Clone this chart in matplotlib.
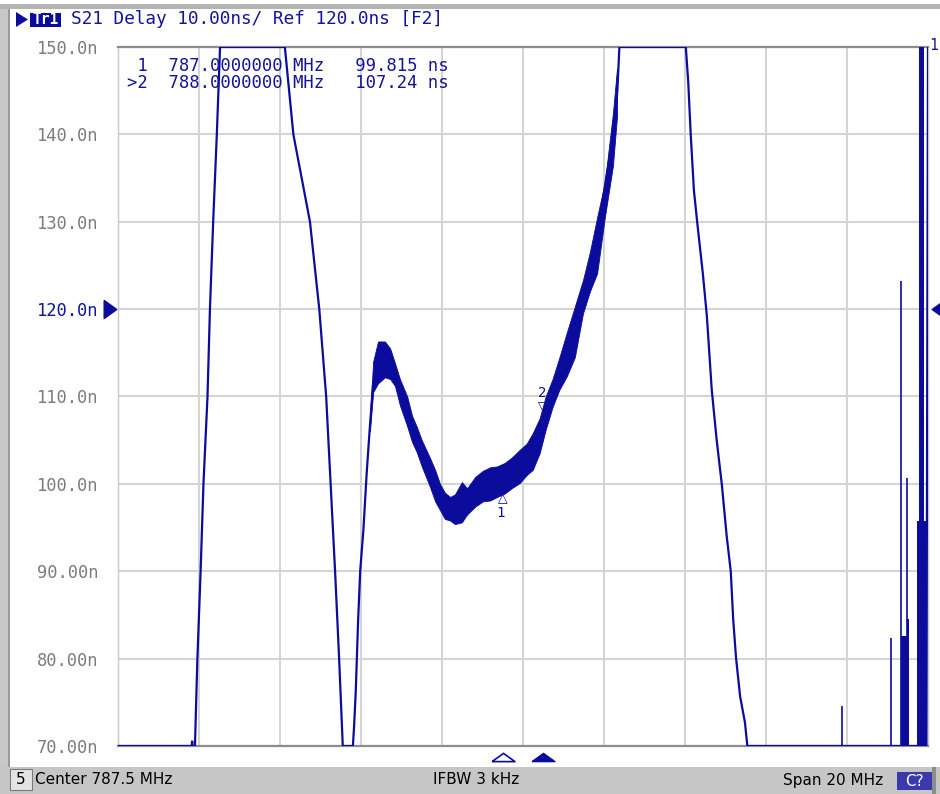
"""
ENA-style S21 group delay screenshot, redrawn with matplotlib.
"""
import matplotlib

matplotlib.use("Agg")
import matplotlib.pyplot as plt  # noqa: E402
import matplotlib.transforms as mtransforms  # noqa: E402
from matplotlib.patches import Polygon, Rectangle  # noqa: E402
from matplotlib.path import Path  # noqa: E402

# sweep settings
CENTER_MHZ = 787.5
SPAN_MHZ = 20.0
DIV_MHZ = 2.0
Y_MIN, Y_MAX, Y_DIV = 70.0, 150.0, 10.0
REF_LEVEL = 120.0

# main trace, MHz / ns
freq_mhz = [
    777.50, 779.32, 779.33, 779.34, 779.40, 779.46, 779.54, 779.61, 779.71, 779.77,
    779.85, 779.94, 780.02,
    781.62, 781.83, 782.24, 782.47, 782.64, 782.75, 782.86, 782.96, 783.05,
    783.30, 783.33, 783.37, 783.43, 783.48, 783.56, 783.64, 783.72, 783.80, 783.93,
    784.09, 784.22, 784.34, 784.46, 784.59, 784.71, 784.84, 784.96, 785.09, 785.21,
    785.33, 785.45, 785.62, 785.78, 785.90, 786.03, 786.19, 786.36, 786.51, 786.69,
    786.86, 787.00, 787.18, 787.34, 787.50, 787.67, 787.80, 787.93, 788.00, 788.17,
    788.32, 788.50, 788.61, 788.78, 788.99, 789.24, 789.44, 789.57, 789.73, 789.83,
    789.88,
    791.52, 791.58, 791.64, 791.72, 791.80, 791.94, 792.04, 792.16, 792.28, 792.41,
    792.53, 792.63, 792.69, 792.76, 792.86, 792.98, 793.04,
    797.46, 797.50,
]
delay_ns = [
    70.0, 70.0, 70.6, 70.0, 70.0, 80.0, 90.0, 100.0, 110.0, 120.0,
    130.0, 140.0, 150.0,
    150.0, 140.0, 130.0, 120.0, 110.0, 100.0, 90.0, 80.0, 70.0,
    70.0, 72.3, 76.2, 84.5, 90.0, 94.8, 101.2, 106.6, 111.5, 114.0,
    114.3, 113.8, 112.3, 110.4, 108.0, 106.2, 104.8, 103.1, 101.8, 100.6,
    99.2, 98.4, 97.3, 97.1, 97.0, 97.8, 98.5, 99.1, 99.6, 100.0,
    100.3, 99.8, 101.0, 101.9, 102.4, 103.6, 104.6, 106.2, 107.24, 109.5,
    111.3, 113.2, 115.0, 117.5, 121.4, 126.5, 131.5, 135.5, 139.5, 145.0,
    150.0,
    150.0, 146.0, 140.1, 133.6, 130.0, 124.1, 119.2, 110.8, 105.1, 99.9,
    94.0, 90.0, 84.5, 80.1, 75.7, 72.7, 70.0,
    70.0, 150.0,
]

# noise envelope of the passband part of the trace
band_mhz = [
    783.72, 783.80, 783.92, 784.09, 784.22, 784.34, 784.46, 784.64, 784.76, 784.88,
    785.00, 785.20, 785.33, 785.45, 785.57, 785.70, 785.82, 785.99, 786.12, 786.32,
    786.51, 786.69, 786.86, 787.05, 787.22, 787.42, 787.59, 787.74, 787.91, 788.06,
    788.23, 788.40, 788.58, 788.78, 788.98, 789.15, 789.33, 789.52, 789.72, 789.82,
]
band_lo = [
    106.0, 110.5, 111.5, 112.2, 112.0, 111.2, 109.0, 106.6, 104.8, 103.6,
    102.0, 99.7, 98.0, 97.0, 96.0, 95.8, 95.4, 95.6, 96.5, 97.4,
    98.0, 98.1, 98.5, 98.9, 99.5, 100.1, 101.0, 101.6, 103.5, 106.2,
    108.8, 110.8, 112.3, 114.5, 119.5, 122.0, 124.1, 130.5, 136.4, 142.0,
]
band_hi = [
    107.5, 114.0, 116.3, 116.3, 115.5, 113.8, 112.0, 110.0, 107.8, 106.5,
    105.0, 103.0, 101.6, 100.0, 99.0, 98.5, 98.8, 100.2, 99.5, 100.8,
    101.5, 101.9, 102.0, 102.4, 103.0, 103.9, 104.6, 105.8, 107.5, 110.0,
    112.0, 114.5, 117.3, 120.3, 123.3, 126.5, 130.5, 134.5, 142.4, 147.5,
]

# spurious spikes near the top of the span
spur_mhz = [795.38, 796.58, 796.83, 796.98]
spur_top = [74.6, 82.4, 123.2, 100.7]
block_start = [796.83, 796.97, 797.22, 797.27]
block_end = [796.97, 797.04, 797.45, 797.40]
block_top = [82.6, 84.5, 95.8, 150.0]

# markers
marker_mhz = [787.0, 788.0]
marker_ns = [99.815, 107.24]
marker_lines = [" 1  787.0000000 MHz   99.815 ns", ">2  788.0000000 MHz   107.24 ns"]

y_labels = ["70.00n", "80.00n", "90.00n", "100.0n", "110.0n",
            "120.0n", "130.0n", "140.0n", "150.0n"]

W, H = 940, 794
TRACE = "#0b0b9c"
TEXT_BLUE = "#14149a"
GRID = "#d4d4d4"
MONO = "DejaVu Sans Mono"
SANS = "DejaVu Sans"


def fx(x):
    return x / W


def fy(y):
    return 1 - y / H


def box(x0, y0, x1, y1, color, **kw):
    fig.patches.append(Rectangle((fx(x0), fy(y1)), (x1 - x0) / W, (y1 - y0) / H,
                                 transform=fig.transFigure, facecolor=color, **kw))


fig = plt.figure(figsize=(9.4, 7.94), dpi=100)
fig.patch.set_facecolor("white")

# window chrome
box(0, 4, 940, 9, "#b4b4b4", linewidth=0)
box(0, 9, 9, 767, "#c8c8c8", linewidth=0)
box(8, 9, 10, 767, "#9a9a9a", linewidth=0)
box(0, 767, 940, 794, "#c6c6c6", linewidth=0)
box(10, 769, 32, 790, "#e4e4e4", edgecolor="#7c7c7c", linewidth=0.8)
box(897, 772, 932, 790, "#3a3aae", linewidth=0)
box(932, 767, 936, 794, "#8c8c8c", linewidth=0)

ax = fig.add_axes((fx(118), fy(746), 810 / W, 699 / H))
f_lo = CENTER_MHZ - SPAN_MHZ / 2
f_hi = CENTER_MHZ + SPAN_MHZ / 2
ax.set_xlim(f_lo, f_hi)
ax.set_ylim(Y_MIN, Y_MAX)

x_grid = [f_lo + i * DIV_MHZ for i in range(int(SPAN_MHZ / DIV_MHZ) + 1)]
y_grid = [Y_MIN + i * Y_DIV for i in range(int((Y_MAX - Y_MIN) / Y_DIV) + 1)]
ax.set_xticks(x_grid)
ax.set_xticklabels([])
ax.set_yticks(y_grid)
ax.set_yticklabels(y_labels, fontfamily=MONO, fontsize=12.3, color="#7c7c7c")
for lab in ax.get_yticklabels():
    if lab.get_text() == "120.0n":
        lab.set_color(TEXT_BLUE)
ax.tick_params(length=0, pad=14)
ax.grid(True, color=GRID, linewidth=1.5)
ax.set_axisbelow(True)
for side in ("top", "bottom"):
    ax.spines[side].set_color("#8c8c8c")
    ax.spines[side].set_linewidth(1.6)
for side in ("left", "right"):
    ax.spines[side].set_color("#c8c8c8")
    ax.spines[side].set_linewidth(1.0)

# trace
ax.fill_between(band_mhz, band_lo, band_hi, color=TRACE, linewidth=0.6, zorder=3)
ax.plot(freq_mhz, delay_ns, color=TRACE, linewidth=1.6, zorder=3,
        solid_joinstyle="miter")
ax.vlines(spur_mhz, Y_MIN, spur_top, color=TRACE, linewidth=1.2, zorder=3)
for f0, f1, top in zip(block_start, block_end, block_top):
    ax.fill_between([f0, f1], Y_MIN, top, color=TRACE, linewidth=0, zorder=3)

# reference level arrows on both sides
ref_tr = mtransforms.blended_transform_factory(ax.transAxes, ax.transData)
right_arrow = Path([(-0.7, 1), (0.7, 0), (-0.7, -1), (-0.7, 1)])
left_arrow = Path([(0.7, 1), (-0.7, 0), (0.7, -1), (0.7, 1)])
ax.plot([-0.0095], [REF_LEVEL], marker=right_arrow, markersize=13, color=TRACE,
        transform=ref_tr, clip_on=False, linestyle="none")
ax.plot([1.0125], [REF_LEVEL], marker=left_arrow, markersize=13, color=TRACE,
        transform=ref_tr, clip_on=False, linestyle="none")

# marker triangles under the graticule
flat_tri = Path([(-1, -0.36), (1, -0.36), (0, 0.36), (-1, -0.36)])
mk_tr = mtransforms.blended_transform_factory(ax.transData, ax.transAxes)
ax.plot([marker_mhz[0]], [-0.016], marker=flat_tri, markersize=16.5,
        markerfacecolor="white", markeredgecolor=TRACE, markeredgewidth=1.2,
        transform=mk_tr, clip_on=False, linestyle="none")
ax.plot([marker_mhz[1]], [-0.016], marker=flat_tri, markersize=16.5,
        color=TRACE, transform=mk_tr, clip_on=False, linestyle="none")

# marker symbols on the trace
ax.annotate("\u25b3", (marker_mhz[0], marker_ns[0]), xytext=(0, -13),
            textcoords="offset pixels", ha="center", va="center",
            fontsize=9, color=TRACE, zorder=4)
ax.annotate("1", (marker_mhz[0], marker_ns[0]), xytext=(-2, -28),
            textcoords="offset pixels", ha="center", va="center",
            fontfamily=MONO, fontsize=10, color=TRACE, zorder=4)
ax.annotate("\u25bd", (marker_mhz[1], marker_ns[1]), xytext=(0, 14),
            textcoords="offset pixels", ha="center", va="center",
            fontsize=9, color=TRACE, zorder=4)
ax.annotate("2", (marker_mhz[1], marker_ns[1]), xytext=(-1, 28),
            textcoords="offset pixels", ha="center", va="center",
            fontfamily=MONO, fontsize=10, color=TRACE, zorder=4)

# marker readout
for i, line in enumerate(marker_lines):
    ax.text(fx(127), fy(66 + 17 * i), line, transform=fig.transFigure,
            fontfamily=MONO, fontsize=12.4, color=TEXT_BLUE, va="center", ha="left")

# header
fig.patches.append(Polygon([(fx(16), fy(12)), (fx(28), fy(19.5)), (fx(16), fy(27))],
                           closed=True, transform=fig.transFigure, facecolor=TRACE))
box(30, 12.5, 61, 27, TRACE, linewidth=0)
fig.text(fx(45.5), fy(20), "Tr1", ha="center", va="center", color="white",
         fontfamily=MONO, fontsize=10.5, fontweight="bold")
fig.text(fx(71), fy(19.5), "S21 Delay 10.00ns/ Ref 120.0ns [F2]", ha="left",
         va="center", color=TEXT_BLUE, fontfamily=MONO, fontsize=12.8)
fig.text(fx(934), fy(46), "1", ha="center", va="center", color=TEXT_BLUE,
         fontfamily=MONO, fontsize=10.5)

# status bar
fig.text(fx(21), fy(780), "5", ha="center", va="center", fontfamily=SANS, fontsize=11)
fig.text(fx(35), fy(780), "Center 787.5 MHz", ha="left", va="center",
         fontfamily=SANS, fontsize=11)
fig.text(fx(476), fy(780), "IFBW 3 kHz", ha="center", va="center",
         fontfamily=SANS, fontsize=11)
fig.text(fx(883), fy(780), "Span 20 MHz", ha="right", va="center",
         fontfamily=SANS, fontsize=11)
fig.text(fx(914.5), fy(781), "C?", ha="center", va="center", color="white",
         fontfamily=SANS, fontsize=11)

fig.savefig("out.png", dpi=100)
